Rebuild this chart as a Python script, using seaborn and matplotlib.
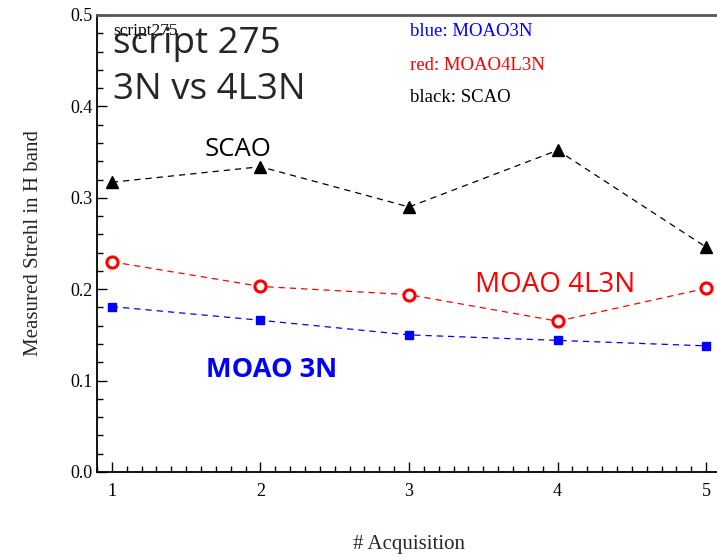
import matplotlib
matplotlib.use("Agg")
import matplotlib.pyplot as plt
from matplotlib.ticker import MultipleLocator
import seaborn as sns
import pandas as pd

acquisition = [1, 2, 3, 4, 5]
strehl_moao3n = [0.181, 0.166, 0.150, 0.144, 0.138]
strehl_moao4l3n = [0.230, 0.203, 0.194, 0.165, 0.201]
strehl_scao = [0.317, 0.334, 0.290, 0.352, 0.246]

sns.set_theme(style="white")
plt.rcParams["font.family"] = ["Liberation Serif", "DejaVu Serif"]

fig = plt.figure(figsize=(7.17, 5.57), dpi=100)
ax = fig.add_axes([97 / 717, 85 / 557, 624 / 717, 457 / 557])

series = [
    (strehl_moao3n, "#0000ff", "s", 6, "#0000ff", 1.0),
    (strehl_moao4l3n, "#ff0000", "o", 8, "white", 2.2),
    (strehl_scao, "black", "^", 8, "black", 1.0),
]
for values, color, marker, ms, face, mew in series:
    df = pd.DataFrame({"acq": acquisition, "strehl": values})
    sns.lineplot(data=df, x="acq", y="strehl", ax=ax, color=color,
                 linestyle=(0, (5, 4)), linewidth=0.9, marker=marker,
                 markersize=ms, markerfacecolor=face, markeredgecolor=color,
                 markeredgewidth=mew, zorder=3)

ax.set_xlim(0.9, 5.1)
ax.set_ylim(0.0, 0.5)
ax.xaxis.set_major_locator(MultipleLocator(1))
ax.xaxis.set_minor_locator(MultipleLocator(0.1))
ax.yaxis.set_major_locator(MultipleLocator(0.1))
ax.yaxis.set_minor_locator(MultipleLocator(0.02))
ax.yaxis.set_major_formatter(plt.FuncFormatter(lambda v, p: f"{v:.1f}"))
ax.tick_params(axis="both", which="major", direction="in", length=7,
               width=1, color="black", labelsize=13, labelcolor="black")
ax.tick_params(axis="both", which="minor", direction="in", length=4,
               width=1, color="black")
ax.tick_params(axis="x", which="both", top=False, bottom=True, pad=8)
ax.tick_params(axis="y", which="both", left=True, right=False, pad=3)

for side in ["left", "bottom"]:
    ax.spines[side].set_color("black")
    ax.spines[side].set_linewidth(1.3)
ax.spines["top"].set_color("#555555")
ax.spines["top"].set_linewidth(2)
ax.spines["right"].set_visible(False)

ax.set_xlabel("# Acquisition", fontsize=15, labelpad=25)
ax.set_ylabel("Measured Strehl in H band", fontsize=15, labelpad=20)

sans = ["Open Sans", "DejaVu Sans"]
fig.text(113 / 717, 1 - 35 / 557, "script275", fontsize=12.5, color="black",
         va="baseline", ha="left")
fig.text(113 / 717, 1 - 53 / 557, "script 275", fontsize=26.5, family=sans,
         va="baseline", ha="left")
fig.text(113 / 717, 1 - 99 / 557, "3N vs 4L3N", fontsize=26.5, family=sans,
         va="baseline", ha="left")
ax.text(1.85, 0.353, "SCAO", fontsize=18.5, family=sans, ha="center",
        va="center", color="black")
ax.text(3.985, 0.2046, "MOAO 4L3N", fontsize=20, family=sans, ha="center",
        va="center", color="#ff0000")
ax.text(2.078, 0.1116, "MOAO 3N", fontsize=19.5, family=sans, ha="center",
        va="center", color="#0000ff", fontweight="bold")

fig.text(410 / 717, 1 - 32 / 557, "blue: MOAO3N", fontsize=13.5,
         color="#0000ff", va="center")
fig.text(410 / 717, 1 - 65 / 557, "red: MOAO4L3N", fontsize=13.5,
         color="#ff0000", va="center")
fig.text(410 / 717, 1 - 97 / 557, "black: SCAO", fontsize=13.5,
         color="black", va="center")

fig.savefig("out.png", dpi=100)
